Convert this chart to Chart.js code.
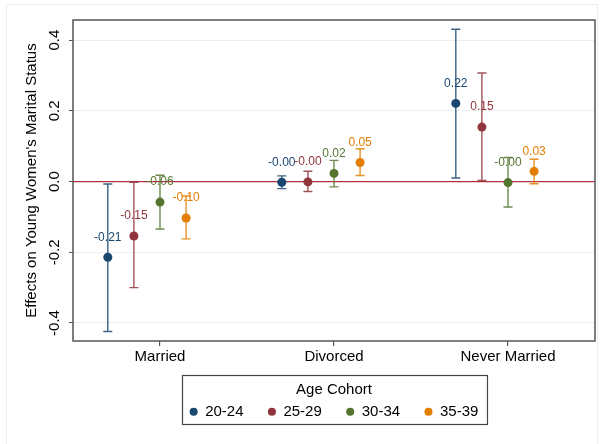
<!DOCTYPE html>
<html lang="en">
<head>
<meta charset="UTF-8">
<title>Effects on Young Women's Marital Status</title>
<style>
  html, body { margin: 0; padding: 0; background: #fff; }
  #wrap { width: 605px; height: 444px; }
</style>
</head>
<body>
<div id="wrap"><canvas id="effectsChart" width="605" height="444"></canvas></div>
<script src="https://cdn.jsdelivr.net/npm/chart.js"></script>
<script>
// categories and cohorts
const categories = ['Married', 'Divorced', 'Never Married'];
const cohorts = ['20-24', '25-29', '30-34', '35-39'];

// point estimates per cohort (Married, Divorced, Never Married)
const est20 = [-0.214, -0.002, 0.221];
const est25 = [-0.154, -0.001, 0.154];
const est30 = [-0.058, 0.023, -0.003];
const est35 = [-0.103, 0.054, 0.029];

// confidence interval bounds
const lo20 = [-0.424, -0.020, 0.010];
const hi20 = [-0.007, 0.016, 0.431];
const lo25 = [-0.300, -0.028, 0.003];
const hi25 = [-0.002, 0.029, 0.307];
const lo30 = [-0.134, -0.015, -0.072];
const hi30 = [0.018, 0.060, 0.068];
const lo35 = [-0.162, 0.017, -0.006];
const hi35 = [-0.041, 0.093, 0.063];

const yTicks = [-0.4, -0.2, 0, 0.2, 0.4];

const estimates = [est20, est25, est30, est35];
const lowers = [lo20, lo25, lo30, lo35];
const uppers = [hi20, hi25, hi30, hi35];

const colors = ['#1a476f', '#90353b', '#55752f', '#e37e00'];
const ciColors = ['rgba(26,71,111,0.85)', 'rgba(144,53,59,0.85)', 'rgba(85,117,47,0.85)', 'rgba(227,126,0,0.85)'];
const offsets = [-0.3, -0.15, 0, 0.15];
const fontFamily = '"Liberation Sans", Arial, Helvetica, sans-serif';
const legendTitlePad = 15;

Chart.defaults.font.family = fontFamily;
Chart.defaults.color = '#000';

const datasets = cohorts.map((c, i) => ({
    label: c,
    data: categories.map((cat, j) => ({ x: j + 1 + offsets[i], y: estimates[i][j] })),
    lo: lowers[i],
    hi: uppers[i],
    ciColor: ciColors[i],
    backgroundColor: colors[i],
    borderColor: colors[i],
    borderWidth: 0,
    pointRadius: 4.5,
    pointStyle: 'circle'
}));

const decorations = {
    id: 'decorations',
    beforeDraw(chart) {
        const ctx = chart.ctx;
        ctx.save();
        ctx.strokeStyle = '#eeeeee';
        ctx.lineWidth = 1;
        ctx.strokeRect(6.5, 4.5, 591, 500);
        ctx.restore();
    },
    beforeDatasetsDraw(chart) {
        const { ctx, chartArea: a, scales: { x, y } } = chart;
        ctx.save();
        // zero reference line
        const y0 = y.getPixelForValue(0);
        ctx.strokeStyle = '#b5303e';
        ctx.lineWidth = 1.2;
        ctx.beginPath();
        ctx.moveTo(a.left, y0);
        ctx.lineTo(a.right, y0);
        ctx.stroke();
        // confidence intervals
        chart.data.datasets.forEach(ds => {
            ctx.strokeStyle = ds.ciColor;
            ctx.lineWidth = 1.4;
            ds.data.forEach((p, j) => {
                const px = x.getPixelForValue(p.x);
                const top = y.getPixelForValue(ds.hi[j]);
                const bot = y.getPixelForValue(ds.lo[j]);
                ctx.beginPath();
                ctx.moveTo(px, top); ctx.lineTo(px, bot);
                ctx.moveTo(px - 4.5, top); ctx.lineTo(px + 4.5, top);
                ctx.moveTo(px - 4.5, bot); ctx.lineTo(px + 4.5, bot);
                ctx.stroke();
            });
        });
        ctx.restore();
    },
    afterDatasetsDraw(chart) {
        const ctx = chart.ctx;
        ctx.save();
        ctx.font = '12px ' + fontFamily;
        ctx.textAlign = 'center';
        ctx.textBaseline = 'middle';
        chart.data.datasets.forEach((ds, i) => {
            const meta = chart.getDatasetMeta(i);
            ctx.fillStyle = ds.backgroundColor;
            meta.data.forEach((pt, j) => {
                ctx.fillText(ds.data[j].y.toFixed(2), pt.x, pt.y - 20);
            });
        });
        ctx.restore();
    },
    afterDraw(chart) {
        const { ctx, chartArea: a, legend } = chart;
        ctx.save();
        // plot frame
        ctx.strokeStyle = '#555';
        ctx.lineWidth = 1.5;
        ctx.strokeRect(a.left, a.top, a.right - a.left, a.bottom - a.top);
        // legend box
        const hb = legend.legendHitBoxes;
        const last = hb[hb.length - 1];
        const left = hb[0].left - 7.5;
        const right = last.left + last.width + 9;
        const top = legend.top + legendTitlePad - 7;
        const bottom = hb[0].top + hb[0].height / 2 + 12.3;
        ctx.lineWidth = 1.2;
        ctx.strokeStyle = '#444';
        ctx.strokeRect(Math.round(left) + 0.5, Math.round(top) + 0.5, Math.round(right - left), Math.round(bottom - top));
        ctx.restore();
    }
};

new Chart(document.getElementById('effectsChart'), {
    type: 'scatter',
    data: { datasets },
    options: {
        responsive: false,
        animation: false,
        events: [],
        layout: { padding: { left: 0, right: 10, top: 20, bottom: 14.8 } },
        scales: {
            x: {
                type: 'linear',
                min: 0.5,
                max: 3.5,
                afterBuildTicks: s => { s.ticks = categories.map((c, j) => ({ value: j + 1 })); },
                afterFit: s => { s.height = 26; },
                ticks: {
                    callback: v => categories[Math.round(v) - 1],
                    font: { size: 15 },
                    color: '#000',
                    padding: 2,
                    maxRotation: 0
                },
                grid: { drawOnChartArea: false, tickLength: 5, tickColor: '#555', lineWidth: 1.2 },
                border: { display: false }
            },
            y: {
                min: -0.451,
                max: 0.457,
                afterBuildTicks: s => { s.ticks = yTicks.map(v => ({ value: v })); },
                afterFit: s => { s.width = 73; },
                ticks: {
                    callback: v => v.toFixed(1),
                    font: { size: 15 },
                    color: '#000',
                    minRotation: 90,
                    maxRotation: 90,
                    crossAlign: 'center',
                    padding: 1
                },
                grid: { color: '#e8f0f1', lineWidth: 1, tickLength: 4, tickColor: '#555' },
                border: { display: false },
                title: {
                    display: true,
                    text: "Effects on Young Women's Marital Status",
                    font: { size: 15 },
                    color: '#000',
                    padding: { top: 23, bottom: 0 }
                }
            }
        },
        plugins: {
            tooltip: { enabled: false },
            legend: {
                position: 'bottom',
                fullSize: false,
                align: 'center',
                title: {
                    display: true,
                    text: 'Age Cohort',
                    color: '#000',
                    font: { size: 15 },
                    padding: { top: legendTitlePad, bottom: -20.2 }
                },
                labels: {
                    usePointStyle: true,
                    pointStyle: 'circle',
                    boxWidth: 8,
                    boxHeight: 5.7,
                    padding: 24.4,
                    color: '#000',
                    font: { size: 15 }
                }
            }
        }
    },
    plugins: [decorations]
});
</script>
</body>
</html>
